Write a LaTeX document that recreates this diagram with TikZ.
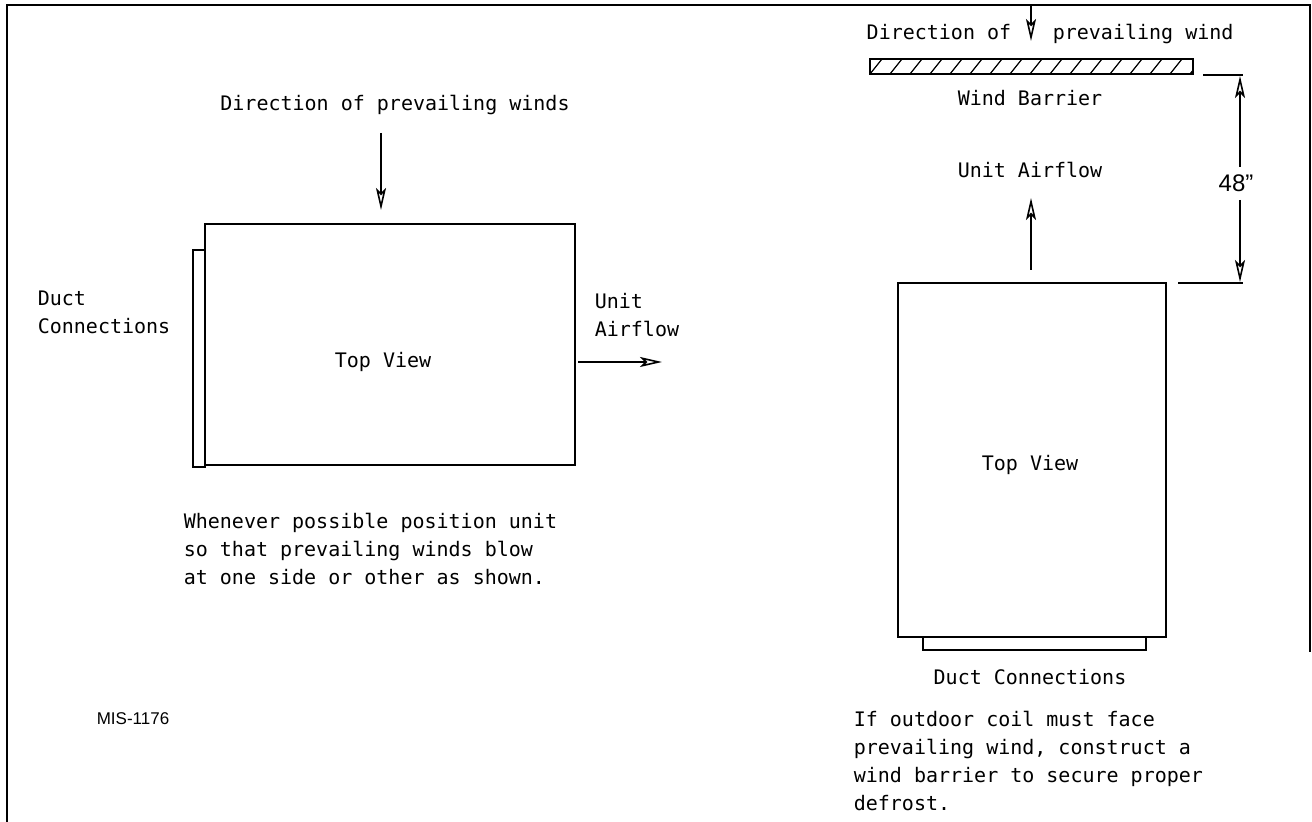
\documentclass[tikz,border=0pt]{standalone}
\usepackage{fontspec}
\setmonofont{DejaVu Sans Mono}
\setsansfont{Liberation Sans}
\usetikzlibrary{arrows.meta}

\tikzset{every picture/.style={line width=0.8pt}}
\tikzset{
	cadtext/.style={font=\ttfamily\fontsize{10}{14}\selectfont, inner sep=0pt},
	windtip/.style={-{Stealth[open,length=11pt,width=5pt,inset=2.5pt]}},
	hatchline/.style={line width=0.6pt}}

\begin{document}
\begin{tikzpicture}[x=0.5pt,y=0.5pt,yscale=-1,xscale=1]
	\useasboundingbox (0,0) rectangle (1312,822);

	%Frame
	\draw (7,822) -- (7,5) -- (1310,5) -- (1310,652) ;

	%Shape: Rectangle [left unit]
	\draw (205,224) rectangle (575,465) ;
	%Shape: Rectangle [left duct]
	\draw (193,250) rectangle (205,467) ;
	%Shape: Rectangle [right unit]
	\draw (898,283) rectangle (1166,637) ;
	%Shape: Rectangle [right duct]
	\draw (923,637) rectangle (1146,650) ;

	%Shape: Rectangle [wind barrier]
	\begin{scope}
		\clip (870,59) rectangle (1193,74);
		\foreach \hx in {850,870,...,1210}
			\draw [hatchline] (\hx,74) -- (\hx+12,59) ;
	\end{scope}
	\draw (870,59) rectangle (1193,74) ;

	%Coordinates of the arrows
	\coordinate (leftwindA) at (381,133);
	\coordinate (leftwindB) at (381,210);
	\coordinate (leftflowA) at (578,362);
	\coordinate (leftflowB) at (662,362);
	\coordinate (topwindA) at (1031,5);
	\coordinate (topwindB) at (1031,41);
	\coordinate (rightflowA) at (1031,270);
	\coordinate (rightflowB) at (1031,198);
	\coordinate (dimtopA) at (1203,75);
	\coordinate (dimtopB) at (1243,75);
	\coordinate (dimbotA) at (1178,283);
	\coordinate (dimbotB) at (1243,283);
	\coordinate (dimupper) at (1240,167);
	\coordinate (dimlower) at (1240,200);

	%Straight Lines [arrows]
	\draw [windtip] (leftwindA) -- (leftwindB) ;
	\draw [windtip] (leftflowA) -- (leftflowB) ;
	\draw [windtip] (topwindA) -- (topwindB) ;
	\draw [windtip] (rightflowA) -- (rightflowB) ;
	%Straight Lines [dimension]
	\draw (dimtopA) -- (dimtopB) ;
	\draw (dimbotA) -- (dimbotB) ;
	\draw [windtip] (dimupper) -- (1240,76) ;
	\draw [windtip] (dimlower) -- (1240,282) ;

	% Text Node
	\node [cadtext, anchor=base] (leftwind) at (395,111) {Direction of prevailing winds};
	% Text Node
	\node [cadtext, anchor=base west, align=left] (leftduct) at (37,334) {Duct\\Connections};
	% Text Node
	\node [cadtext, anchor=base] (lefttop) at (383,368) {Top View};
	% Text Node
	\node [cadtext, anchor=base west, align=left] (leftflow) at (594,337) {Unit\\Airflow};
	% Text Node
	\node [cadtext, anchor=base west, align=left] (leftnote) at (183,585) {Whenever possible position unit\\so that prevailing winds blow\\at one side or other as shown.};
	% Text Node
	\node [font=\sffamily\fontsize{8.5}{10}\selectfont, inner sep=0pt, anchor=base west] (drawno) at (96,725) {MIS-1176};

	% Text Node
	\node [cadtext, anchor=base east] (topwindL) at (1012,40) {Direction of};
	% Text Node
	\node [cadtext, anchor=base west] (topwindR) at (1052,40) {prevailing wind};
	% Text Node
	\node [cadtext, anchor=base] (barrier) at (1030,106) {Wind Barrier};
	% Text Node
	\node [cadtext, anchor=base] (rightflow) at (1030,178) {Unit Airflow};
	% Text Node
	\node [font=\sffamily\fontsize{12}{14}\selectfont, inner sep=0pt, anchor=base] (dimtext) at (1236,192) {48”};
	% Text Node
	\node [cadtext, anchor=base] (righttop) at (1030,471) {Top View};
	% Text Node
	\node [cadtext, anchor=base] (rightduct) at (1030,685) {Duct Connections};
	% Text Node
	\node [cadtext, anchor=base west, align=left] (rightnote) at (853,811) {If outdoor coil must face\\prevailing wind, construct a\\wind barrier to secure proper\\defrost.};

\end{tikzpicture}
\end{document}
